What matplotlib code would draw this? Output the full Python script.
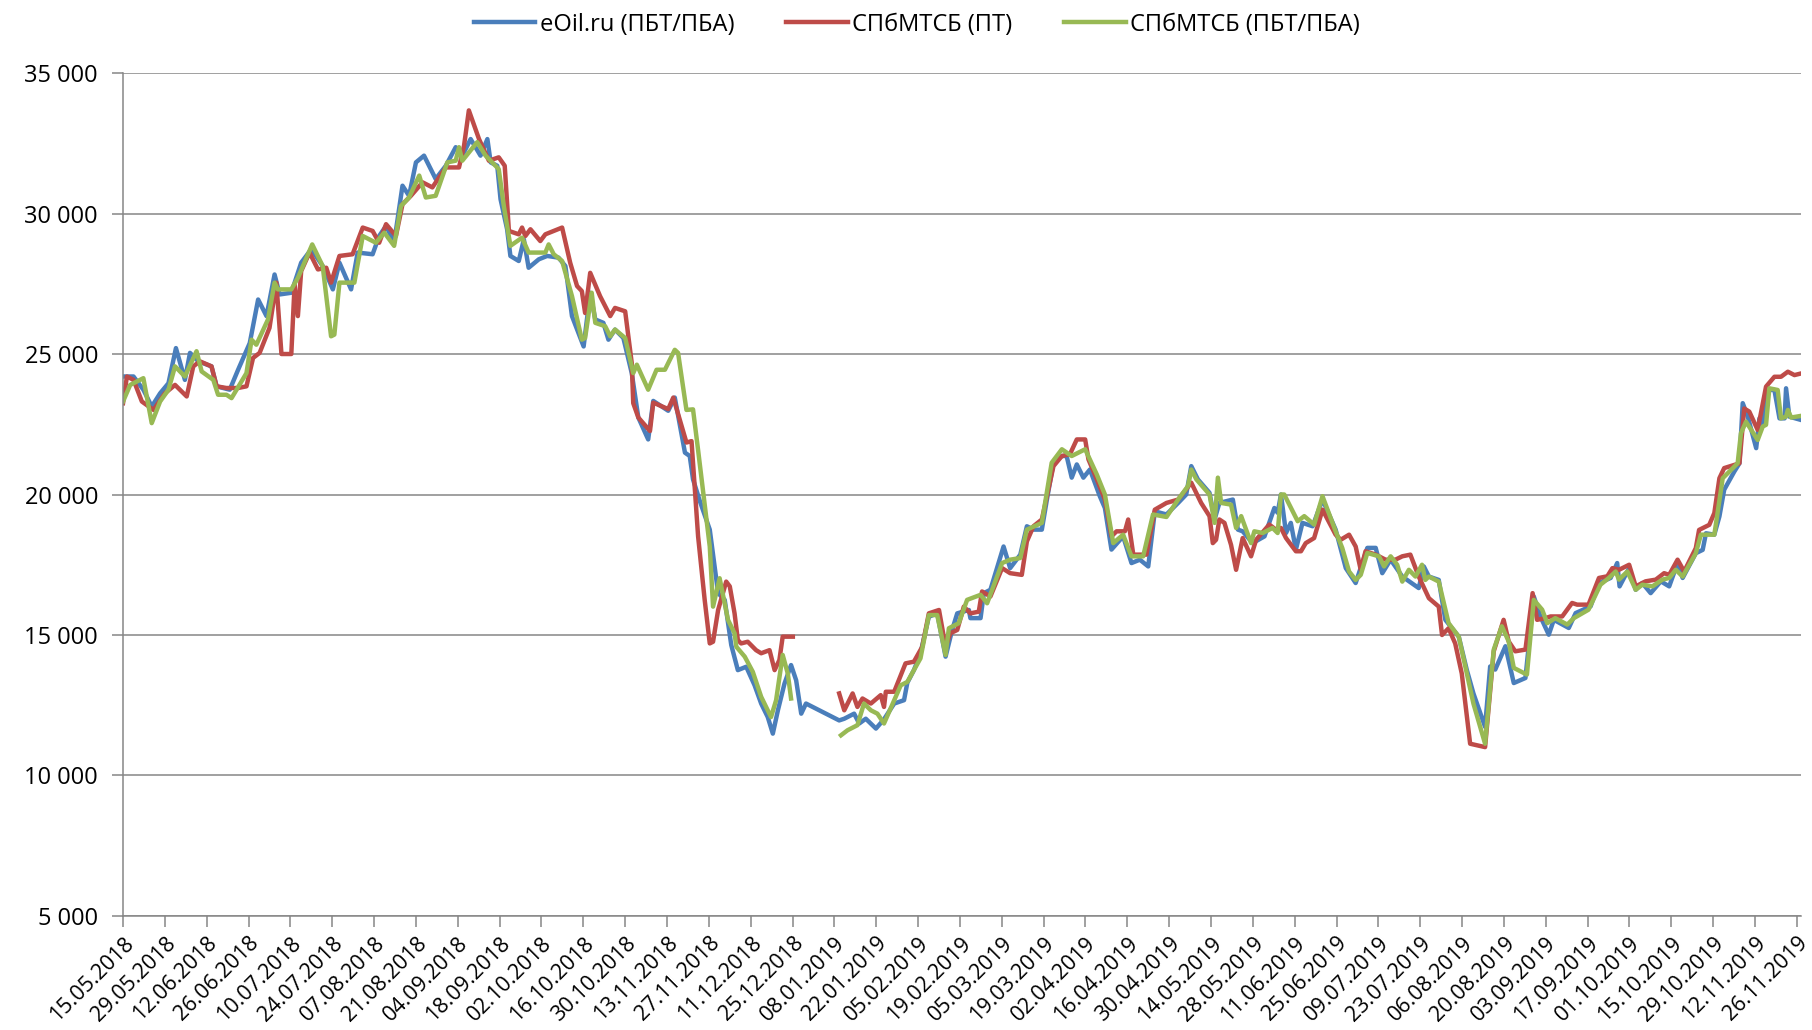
import numpy as np
import pandas as pd
import matplotlib
matplotlib.use('Agg')
import matplotlib.pyplot as plt
from matplotlib.ticker import FuncFormatter

plt.rcParams['font.family'] = ['Open Sans', 'DejaVu Sans']

# дни от 15.05.2018 и цены (руб/т)
blue_days = [0, 3.5, 6.8, 9.6, 12.4, 15.2, 17.7, 20.7, 22.4, 25.2, 29.6, 31.3, 35.7, 38.5, 42.4, 45.2, 48, 50.7, 52.4,
             56.3, 59.6, 63, 66.8, 70.2, 72.4, 76.3, 78.5, 83.5, 85.7, 88, 90.7, 93.5, 95.7, 98, 100.7, 104.6, 108,
             111.3, 113.5, 116.3, 119.6, 121.9, 123, 125.2, 126.3, 128.5, 129.6, 132.4, 134.1, 135.7, 139.1, 141.9,
             145.7, 148, 150.2, 154.1, 156.3, 158, 160.7, 162.4, 164.6, 167.4, 170.2, 172.4, 175.7, 177.4, 182.4,
             184.6, 188, 189.6, 190.7, 193, 196.3, 199.1, 201.3, 203.5, 205.7, 208.5, 211.3, 213.5, 215.7, 217.4,
             219.1, 221.3, 223.5, 225.2, 226.9, 228.5, 239.6, 241.3, 244.6, 246.3, 248.5, 251.9, 254.6, 258, 261.3,
             262.4, 264.6, 266.8, 269.6, 272.4, 275.2, 277.4, 279.1, 283, 283.5, 286.9, 288, 290.2, 294.6, 296.8,
             300.2, 302.4, 304.6, 307.4, 309.1, 311.3, 314.1, 315.7, 317.4, 319.1, 321.3, 323.5, 326.8, 328.5, 330.7,
             334.6, 337.4, 340.2, 343, 345.2, 349.1, 353, 355.7, 357.4, 359.6, 363.5, 365.2, 366.8, 371.3, 373,
             374.6, 377.9, 381.9, 385.2, 386.3, 387.4, 389.1, 390.7, 392.4, 394.6, 398, 401.3, 405.7, 409.1, 412.4,
             416.3, 419.1, 421.3, 424.1, 428, 433.5, 435.2, 436.9, 440.2, 442.4, 446.9, 449.6, 451.8, 455.7, 457.4,
             459.1, 462.5, 465.3, 469.2, 472, 474.2, 477, 478.7, 483.7, 486, 491, 493.8, 497.7, 499.9, 500.7, 503.9,
             506.1, 508.3, 511.1, 514.5, 517.3, 520.1, 521.8, 526.2, 528.5, 529.6, 532.4, 534.1, 535.7, 539.1, 540.8,
             541.9, 543.6, 546.4, 547.5, 548.6, 550.3, 552.5, 554.2, 555.9, 556.4, 557.5, 561.5]
blue_vals = [24200, 24200, 23730, 23130, 23600, 23960, 25210, 24080, 25040, 24740, 24560, 23850, 23730, 24440, 25390,
             26940, 26350, 27830, 27120, 27180, 28250, 28730, 28130, 27300, 28250, 27300, 28610, 28550, 29200, 29560,
             28960, 30990, 30630, 31820, 32060, 31230, 31700, 32360, 32060, 32650, 32060, 32650, 31820, 31700, 30510,
             29440, 28490, 28310, 29080, 28070, 28370, 28490, 28430, 28130, 26350, 25270, 27180, 26230, 26110, 25510,
             25870, 25570, 24320, 22740, 21960, 23330, 22980, 23450, 21490, 21370, 20540, 19760, 18750, 16490, 16250,
             14640, 13750, 13870, 13210, 12560, 12080, 11490, 12320, 13270, 13930, 13390, 12200, 12560, 11960, 12020,
             12200, 11850, 12020, 11670, 12000, 12560, 12680, 13300, 13750, 14350, 15650, 15770, 14230, 15180, 15770,
             15890, 15600, 15600, 16490, 16610, 18150, 17380, 17860, 18870, 18750, 18750, 19820, 21130, 21370, 21370,
             20600, 21070, 20600, 20890, 19940, 19520, 18040, 18510, 17560, 17680, 17440, 19400, 19290, 19700, 20000,
             21010, 20540, 20060, 19110, 19700, 19820, 18750, 18690, 18270, 18510, 19520, 19350, 20000, 18630, 18990,
             18040, 18990, 18870, 19820, 18750, 17380, 16850, 18100, 18100, 17200, 17680, 17080, 16670, 17440, 17080,
             16960, 15540, 14940, 13750, 12920, 11730, 13880, 13770, 14600, 13290, 13470, 16370, 15660, 15010, 15540,
             15250, 15780, 16020, 16850, 17030, 17560, 16730, 17380, 16610, 16850, 16490, 16910, 16730, 17560, 17030,
             17910, 18030, 18620, 18570, 19220, 20170, 20820, 21110, 23250, 22770, 21650, 22710, 22480, 23720, 23720,
             22710, 22710, 23780, 22770, 22650]

red_days = [0, 1.3, 3.5, 6.3, 10.2, 14, 17.4, 21.3, 23.5, 25.7, 29.6, 31.3, 34.6, 38.5, 41.3, 43.5, 45.7, 49, 51.3,
            53, 56.3, 57.4, 58.5, 59.6, 62.4, 65.2, 68, 69.6, 72.4, 76.8, 80.2, 83.5, 85.7, 88, 91.3, 93.5, 96.3,
            100.2, 103.5, 108, 112.4, 114.1, 115.7, 119.1, 122.4, 125.7, 127.7, 129.1, 132.4, 133.5, 134.6, 136.3,
            139.6, 141.3, 146.9, 149.6, 151.9, 153.5, 154.6, 156.3, 159.6, 163, 164.6, 168, 170.2, 170.7, 172.4,
            176.3, 177.4, 182.4, 184.1, 188.5, 190.2, 192.4, 194.6, 196.3, 197.4, 199.1, 201.8, 203, 204.6, 205.7,
            206.8, 209, 211.8, 213.5, 216.3, 218, 219.6, 220.7, 224.1, 232, 239.6, 241.3, 244.1, 245.7, 247.4, 250.2,
            253.5, 254.6, 255.2, 258, 261.8, 264.6, 267.4, 269.6, 273, 275.2, 276.8, 279.1, 281.3, 283.5, 286.3,
            287.4, 290.2, 294.1, 296.8, 300.7, 302.4, 304.6, 307.4, 309.1, 311.3, 314.1, 316.8, 319.1, 321.9, 323,
            325.8, 328.5, 330.7, 332.4, 335.2, 336.3, 338, 342.4, 345.2, 349.1, 353, 357.4, 360.7, 363.5, 364.6,
            365.7, 366.8, 368.5, 370.7, 372.4, 374.6, 377.4, 379.1, 383.5, 385.7, 387.4, 389.1, 392.4, 394.1, 395.7,
            398.5, 401.3, 405.7, 407.4, 410.2, 412.4, 414.1, 415.7, 419.1, 422.4, 425.7, 428, 430.7, 433.5, 436.9,
            440.2, 441.3, 443.5, 445.7, 447.9, 450.7, 455.7, 458.6, 461.9, 463.6, 465.8, 469.2, 471.6, 473.1, 475.9,
            477.6, 481.5, 484.8, 486.5, 490.3, 493.8, 496.6, 498.3, 500.5, 503.9, 506.1, 509.4, 512.8, 515.6, 517.3,
            520.1, 522.3, 526.2, 527.3, 530.7, 532.4, 534.1, 535.7, 540.8, 542.4, 544.1, 546.9, 549.7, 552.5, 554.7,
            557, 559.2, 561.5]
red_vals = [23250, 24200, 24080, 23310, 23010, 23600, 23900, 23490, 24560, 24740, 24560, 23850, 23790, 23790, 23850,
            24860, 25040, 25930, 27540, 25000, 25000, 27480, 26350, 27950, 28610, 28010, 28070, 27540, 28490, 28550,
            29500, 29380, 28960, 29620, 29200, 30330, 30630, 31110, 30930, 31640, 31640, 32420, 33670, 32650, 31880,
            32000, 31700, 29380, 29260, 29500, 29200, 29440, 29020, 29260, 29500, 28250, 27420, 27240, 26460, 27890,
            27060, 26350, 26640, 26520, 24680, 23250, 22740, 22260, 23270, 23040, 23450, 21850, 21900, 18510, 16250,
            14700, 14760, 15890, 16900, 16730, 15770, 14820, 14700, 14760, 14460, 14350, 14460, 13750, 14110, 14940,
            14940, np.nan, 12920, 12320, 12920, 12440, 12740, 12560, 12860, 12440, 12980, 12980, 13990, 14050, 14580,
            15770, 15890, 14580, 15060, 15180, 16010, 15770, 15830, 16550, 16370, 17380, 17200, 17140, 18330, 18870,
            19110, 19940, 21010, 21370, 21430, 21960, 21960, 21250, 20540, 19820, 18510, 18690, 18690, 19110, 17860,
            17860, 19460, 19700, 19820, 20420, 19700, 19230, 18270, 18390, 19110, 18990, 18210, 17320, 18450, 17800,
            18390, 18930, 18750, 18810, 18450, 17980, 17980, 18270, 18450, 19460, 18570, 18390, 18570, 18150, 17320,
            17980, 17860, 17680, 17680, 17800, 17860, 17080, 16310, 16010, 15000, 15240, 14700, 13630, 11130, 11010,
            14420, 15540, 14770, 14420, 14480, 16490, 15540, 15600, 15660, 15660, 16140, 16080, 16080, 17030, 17090,
            17380, 17320, 17500, 16730, 16910, 16970, 17200, 17140, 17680, 17260, 18090, 18740, 18920, 19340, 20580,
            20940, 21110, 23060, 22950, 22300, 23840, 24190, 24190, 24370, 24250, 24310]

green_days = [0, 2.4, 6.8, 9.6, 12.4, 15.2, 17.4, 20.7, 24.6, 26.3, 30.2, 31.8, 34.6, 36.3, 41.3, 43, 44.6, 48.5, 50.7,
              51.8, 56.3, 58.5, 63.3, 66.8, 69.6, 70.7, 72.4, 77.4, 80.2, 84.6, 87.4, 90.7, 93, 95.7, 99.1, 101.3,
              104.6, 108.5, 111.3, 112.4, 113.5, 118.5, 121.3, 125.7, 127.4, 129.6, 133.5, 135.7, 141.3, 142.4, 144.1,
              146.9, 150.2, 153.5, 154.6, 156.8, 158, 161.3, 163, 164.6, 168, 170.7, 171.9, 175.7, 178.5, 181.3,
              184.6, 185.7, 188.5, 190.7, 192.4, 195.2, 196.3, 197.4, 199.6, 202.4, 204.6, 205.2, 208, 210.7, 213.5,
              216.8, 218.5, 220.7, 222.4, 223.5, 232, 240.2, 242.4, 245.7, 247.9, 250.2, 252.4, 254.6, 258, 260.2,
              262.4, 266.8, 269.6, 272.4, 275.2, 276.3, 279.6, 282.4, 286.9, 289.1, 294.1, 296.8, 300.2, 302.4, 307.4,
              308.5, 310.7, 314.1, 317.4, 321.9, 325.8, 328.5, 331.3, 334.6, 337.4, 341.3, 344.6, 349.1, 353, 356.3,
              357.4, 359.1, 363.5, 365.2, 366.3, 367.4, 370.7, 372.4, 374.1, 377.4, 378.5, 381.3, 384.6, 386.3, 387.4,
              388.5, 393, 395.2, 398.5, 401.3, 405.7, 407.9, 410.2, 412.4, 414.1, 416.3, 420.2, 421.9, 424.1, 426.3,
              428, 430.2, 432.4, 434.6, 435.7, 436.9, 440.2, 443.5, 446.9, 449.1, 451.8, 455.7, 458.6, 461.3, 463.6,
              465.3, 469.7, 472, 474.8, 476.5, 479.2, 483.2, 485.4, 490.3, 494.3, 497.1, 499.4, 500.5, 503.3, 506.1,
              508.3, 511.7, 515, 517.3, 519.5, 521.8, 526.2, 527.9, 532.4, 535.2, 540.2, 541.3, 543, 546.9, 548.6,
              549.7, 550.8, 553.6, 554.7, 556.4, 557, 558.1, 561.5]
green_vals = [23310, 23900, 24140, 22540, 23310, 23730, 24560, 24200, 25100, 24380, 24080, 23550, 23550, 23430, 24320,
              25510, 25330, 26230, 27540, 27300, 27300, 27710, 28900, 28130, 25630, 25690, 27540, 27540, 29200, 28960,
              29320, 28850, 30270, 30570, 31350, 30570, 30630, 31820, 31880, 32360, 31880, 32540, 32060, 31580, 30270,
              28850, 29140, 28610, 28610, 28900, 28550, 28310, 27060, 25510, 25570, 27180, 26110, 25990, 25630, 25870,
              25570, 24320, 24620, 23730, 24440, 24440, 25150, 25040, 23010, 23030, 21580, 19110, 18150, 16010, 17020,
              15540, 15060, 14580, 14230, 13690, 12800, 12080, 12680, 14290, 13630, 12740, np.nan, 11430, 11610, 11790,
              12560, 12320, 12200, 11850, 12680, 13210, 13330, 14170, 15710, 15710, 14290, 15240, 15420, 16250, 16430,
              16130, 17560, 17680, 17740, 18750, 18990, 19700, 21130, 21610, 21370, 21610, 20710, 20000, 18270, 18570,
              17800, 17800, 19290, 19200, 19820, 20300, 20890, 20540, 20000, 18990, 20600, 19700, 19640, 18810, 19230,
              18270, 18690, 18630, 18810, 18630, 20000, 20000, 19050, 19230, 18930, 19940, 18690, 18100, 17260, 16960,
              17140, 17920, 17800, 17440, 17800, 17500, 16900, 17320, 17080, 17500, 16960, 17080, 16900, 15420, 14940,
              13870, 12560, 11130, 14480, 15310, 14770, 13830, 13590, 16250, 15900, 15420, 15600, 15370, 15600, 15900,
              16790, 17030, 17260, 16970, 17260, 16610, 16790, 16730, 16970, 17030, 17320, 17080, 17910, 18570, 18570,
              20580, 21110, 22180, 22590, 21940, 22420, 22480, 23780, 23720, 22710, 22770, 23010, 22740, 22800]

series_names = ['eOil.ru (ПБТ/ПБА)', 'СПбМТСБ (ПТ)', 'СПбМТСБ (ПБТ/ПБА)']
start_date = pd.Timestamp('2018-05-15')
tick_days = list(range(0, 561, 14))
tick_labels = [(start_date + pd.Timedelta(days=d)).strftime('%d.%m.%Y') for d in tick_days]

fig = plt.figure(figsize=(18.12, 10.30), dpi=100)
ax = fig.add_axes([0.0679, 0.1107, 0.9262, 0.8184])

ax.plot(blue_days, blue_vals, color='#4A7EBB', lw=3.2, label=series_names[0], solid_joinstyle='round')
ax.plot(red_days, red_vals, color='#BE4B48', lw=3.2, label=series_names[1], solid_joinstyle='round')
ax.plot(green_days, green_vals, color='#98B954', lw=3.2, label=series_names[2], solid_joinstyle='round')

ax.set_xlim(0, 561.5)
ax.set_ylim(5000, 35000)
ax.set_yticks(range(5000, 35001, 5000))
ax.yaxis.set_major_formatter(FuncFormatter(lambda v, p: '{:,.0f}'.format(v).replace(',', ' ')))
ax.set_xticks(tick_days)
ax.set_xticklabels(tick_labels, rotation=45, ha='right', rotation_mode='anchor')

ax.grid(axis='y', color='#868686', lw=1.1)
ax.set_axisbelow(True)
for s in ['top', 'right']:
    ax.spines[s].set_visible(False)
for s in ['left', 'bottom']:
    ax.spines[s].set_color('#868686')
    ax.spines[s].set_linewidth(1.1)
ax.tick_params(axis='both', colors='#868686', length=8, width=1.1, labelcolor='black')
ax.tick_params(axis='y', pad=10, labelsize=17)
ax.tick_params(axis='x', pad=4, labelsize=15.5)

fig.legend(loc='center', bbox_to_anchor=(0.506, 0.976), ncol=3, frameon=False, fontsize=17,
           handlelength=2.6, handletextpad=0.2, columnspacing=2.2)

plt.savefig('out.png', dpi=100)
